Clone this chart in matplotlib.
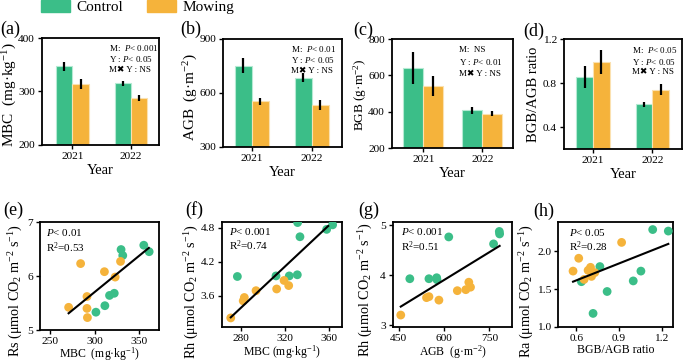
import numpy as np
import matplotlib
matplotlib.use("Agg")
from matplotlib import pyplot as plt
from matplotlib.patches import Patch
from matplotlib.ticker import FormatStrFormatter

plt.rcParams['font.family'] = 'Liberation Serif'
plt.rcParams['mathtext.fontset'] = 'custom'
plt.rcParams['mathtext.rm'] = 'Liberation Serif'
plt.rcParams['mathtext.it'] = 'Liberation Serif:italic'
plt.rcParams['axes.linewidth'] = 1.3

#%% Data : bar panels (mean, error)
years = ['2021', '2022']
mbc_ctrl, mbc_ctrl_err = [347, 315], [8, 5.5]
mbc_mow, mbc_mow_err = [314, 288], [10, 5.5]
agb_ctrl, agb_ctrl_err = [752, 684], [40, 25]
agb_mow, agb_mow_err = [553, 535], [20, 28]
bgb_ctrl, bgb_ctrl_err = [642, 407], [87, 18]
bgb_mow, bgb_mow_err = [541, 389], [53, 12]
ratio_ctrl, ratio_ctrl_err = [0.855, 0.605], [0.097, 0.023]
ratio_mow, ratio_mow_err = [0.99, 0.74], [0.112, 0.053]

#%% Data : scatter panels
# (e) Rs vs MBC
e_green_x = [301.5, 311.5, 316.7, 322, 329.6, 331.5, 355, 361]
e_green_y = [5.33, 5.45, 5.64, 5.68, 6.49, 6.38, 6.57, 6.45]
e_orange_x = [271, 284.4, 291.5, 291.5, 292, 311, 323, 329]
e_orange_y = [5.42, 6.23, 5.62, 5.40, 5.23, 6.08, 5.98, 6.27]
e_fit_x, e_fit_y = [271, 360.6], [5.31, 6.52]
# (f) Rh vs MBC
f_green_x = [276.7, 311.7, 323.7, 331.0, 331.3, 333.4, 357.6, 363.0]
f_green_y = [3.94, 3.95, 3.95, 3.97, 4.89, 4.64, 4.77, 4.85]
f_orange_x = [270.7, 283.0, 282.0, 293.6, 312.3, 319.0, 323.2]
f_orange_y = [3.21, 3.57, 3.51, 3.69, 3.72, 3.87, 3.78]
f_fit_x, f_fit_y = [270.7, 359], [3.22, 4.83]
# (g) Rh vs AGB
g_green_x = [486.7, 550, 575.6, 576.7, 615.6, 764, 783, 784]
g_green_y = [3.93, 3.93, 3.95, 3.91, 4.77, 4.63, 4.88, 4.83]
g_orange_x = [456.7, 542, 550, 583, 644, 672, 682, 687.6]
g_orange_y = [3.20, 3.55, 3.57, 3.50, 3.69, 3.71, 3.86, 3.76]
g_fit_x, g_fit_y = [456.7, 784], [3.37, 4.59]
# (h) Ra vs BGB/AGB ratio
h_green_x = [0.635, 0.765, 0.717, 0.816, 1.0, 1.054, 1.137, 1.247]
h_green_y = [1.60, 1.80, 1.18, 1.47, 1.61, 1.74, 2.29, 2.27]
h_orange_x = [0.576, 0.616, 0.654, 0.682, 0.699, 0.706, 0.729, 0.918]
h_orange_y = [1.74, 1.91, 1.63, 1.75, 1.79, 1.67, 1.72, 2.12]
h_fit_x, h_fit_y = [0.576, 1.247], [1.60, 2.10]

GREEN = '#3BBE88'
ORANGE = '#F5B33B'

W, H = 685, 363
fig = plt.figure(figsize=(W / 100, H / 100), dpi=100)


def add_ax(x0, y0, x1, y1):
    # pixel box -> figure fraction
    return fig.add_axes([x0 / W, 1 - y1 / H, (x1 - x0) / W, (y1 - y0) / H])


def bar_panel(box, ctrl, ctrl_err, mow, mow_err, width, ylim, yticks, xlim,
              ylabel, ylsize, ylpos, notes, notepos, letter, letterpos):
    ax = add_ax(*box)
    x = np.arange(len(years))
    ekw = dict(elinewidth=1.6, capsize=0, ecolor='black')
    ax.bar(x - width / 2, ctrl, width, yerr=ctrl_err, color=GREEN,
           edgecolor='#b5ead3', linewidth=0.8, error_kw=ekw)
    ax.bar(x + width / 2, mow, width, yerr=mow_err, color=ORANGE,
           edgecolor='#fbe1b0', linewidth=0.8, error_kw=ekw)
    ax.set_xlim(*xlim)
    ax.set_ylim(*ylim)
    ax.set_yticks(yticks)
    ax.set_xticks(x)
    ax.set_xticklabels(years)
    ax.tick_params(labelsize=8.2, length=3, width=1, pad=2)
    ax.set_xlabel('Year', fontsize=10.5, labelpad=2)
    ax.set_ylabel(ylabel, fontsize=ylsize)
    ax.yaxis.set_label_coords(*ylpos)
    nx, ny = notepos
    ax.text(nx, ny[0], notes[0], transform=ax.transAxes, fontsize=6.5, va='center')
    ax.text(nx, ny[1], notes[1], transform=ax.transAxes, fontsize=6.5, va='center')
    ax.text(nx, ny[2], notes[2], transform=ax.transAxes, fontsize=6.5, va='center',
            family=['Liberation Serif', 'DejaVu Sans'])
    fig.text(letterpos[0] / W, 1 - letterpos[1] / H, letter, fontsize=13, va='center')
    return ax


def scatter_panel(box, gx, gy, ox, oy, fx, fy, xlim, ylim, xticks, yticks,
                  ylabel, ylpos, xlabel, xlpad, p_txt, r2_txt, txtpos, letter, letterpos):
    ax = add_ax(*box)
    ax.scatter(gx, gy, s=40, color=GREEN, edgecolors='none', zorder=3)
    ax.scatter(ox, oy, s=40, color=ORANGE, edgecolors='none', zorder=3)
    ax.plot(fx, fy, color='black', lw=1.5, zorder=4)
    ax.set_xlim(*xlim)
    ax.set_ylim(*ylim)
    ax.set_xticks(xticks)
    ax.set_yticks(yticks)
    ax.tick_params(labelsize=8.2, length=3, width=1, pad=2)
    ax.set_ylabel(ylabel, fontsize=10.2)
    ax.yaxis.set_label_coords(*ylpos)
    ax.set_xlabel(xlabel, fontsize=8.5, labelpad=xlpad)
    ax.text(txtpos[0], txtpos[1], p_txt, transform=ax.transAxes, fontsize=8, va='center')
    ax.text(txtpos[0], txtpos[2], r2_txt, transform=ax.transAxes, fontsize=8, va='center')
    fig.text(letterpos[0] / W, 1 - letterpos[1] / H, letter, fontsize=13, va='center')
    return ax


#%% Top row
bar_panel((42, 38, 159, 145), mbc_ctrl, mbc_ctrl_err, mbc_mow, mbc_mow_err,
          0.28, (200, 400), [200, 300, 400], (-0.52, 1.48),
          'MBC  (mg·kg$^{-1}$)', 11, (-0.20, 0.47),
          ['M:  $P$< 0.001', 'Y : $P$< 0.05', 'M✖ Y : NS'],
          (0.575, [0.905, 0.80, 0.70]), '(a)', (0, 29))
bar_panel((223, 39, 342, 147), agb_ctrl, agb_ctrl_err, agb_mow, agb_mow_err,
          0.28, (300, 900), [300, 600, 900], (-0.48, 1.505),
          'AGB  (g·m$^{-2}$)', 11, (-0.19, 0.46),
          ['M:  $P$< 0.01', 'Y : $P$< 0.05', 'M✖ Y : NS'],
          (0.572, [0.907, 0.806, 0.704]), '(b)', (180, 29.5))
bar_panel((392, 39, 513, 148), bgb_ctrl, bgb_ctrl_err, bgb_mow, bgb_mow_err,
          0.34, (200, 800), [200, 400, 600, 800], (-0.53, 1.52),
          'BGB (g·m$^{-2}$)', 9.5, (-0.19, 0.49),
          ['M:  NS', 'Y : $P$< 0.01', 'M✖ Y : NS'],
          (0.555, [0.90, 0.786, 0.676]), '(c)', (353, 30))
bar_panel((564, 39, 682, 149), ratio_ctrl, ratio_ctrl_err, ratio_mow, ratio_mow_err,
          0.28, (0.2, 1.2), [0.4, 0.8, 1.2], (-0.49, 1.5),
          'BGB/AGB ratio', 10.5, (-0.20, 0.5),
          ['M:  $P$< 0.05', 'Y : $P$< 0.05', 'M✖ Y : NS'],
          (0.574, [0.90, 0.795, 0.697]), '(d)', (523, 31))

#%% Bottom row
flux = ' (μmol CO$_2$ m$^{-2}$ s$^{-1}$)'
scatter_panel((40, 222, 159, 330), e_green_x, e_green_y, e_orange_x, e_orange_y,
              e_fit_x, e_fit_y, (239, 372), (5, 7), [250, 300, 350], [5, 6, 7],
              'Rs' + flux, (-0.125, 0.37), 'MBC  (mg·kg$^{-1}$)', -0.5, '$P$< 0.01',
              'R$^2$=0.53', (0.05, 0.905, 0.762), '(e)', (3, 210))
scatter_panel((221.7, 222, 342, 327), f_green_x, f_green_y, f_orange_x, f_orange_y,
              f_fit_x, f_fit_y, (262.5, 371.5), (3.05, 4.9), [280, 320, 360],
              [3.6, 4.2, 4.8], 'Rh' + flux, (-0.17, 0.34), 'MBC (mg·kg$^{-1}$)', 0.5,
              '$P$< 0.001', 'R$^2$=0.74', (0.06, 0.914, 0.771), '(f)', (185, 210))
scatter_panel((393, 222, 512, 327), g_green_x, g_green_y, g_orange_x, g_orange_y,
              g_fit_x, g_fit_y, (431, 825), (2.96, 5.07), [450, 600, 750], [3, 4, 5],
              'Rh' + flux, (-0.15, 0.35), 'AGB  (g·m$^{-2}$)', 0.5, '$P$< 0.001',
              'R$^2$=0.51', (0.067, 0.914, 0.765), '(g)', (358, 210))
ax_h = scatter_panel((558, 222, 673, 327), h_green_x, h_green_y, h_orange_x, h_orange_y,
                     h_fit_x, h_fit_y, (0.47, 1.28), (1.0, 2.39), [0.6, 0.9, 1.2],
                     [1.0, 1.5, 2.0], 'Ra' + flux, (-0.19, 0.34), 'BGB/AGB ratio', 0.5,
                     '$P$< 0.05', 'R$^2$=0.28', (0.098, 0.898, 0.765), '(h)', (533, 211))
ax_h.yaxis.set_major_formatter(FormatStrFormatter('%.1f'))

#%% Legend
handles = [Patch(color=GREEN, label='Control'), Patch(color=ORANGE, label='Mowing')]
fig.legend(handles=handles, loc='upper left', bbox_to_anchor=(41 / W, 1.0),
           ncol=2, frameon=False, fontsize=11, handlelength=1.9, handleheight=0.8,
           handletextpad=0.4, columnspacing=1.6, borderpad=0.0, borderaxespad=0.0)

fig.savefig('out.png', dpi=100)
